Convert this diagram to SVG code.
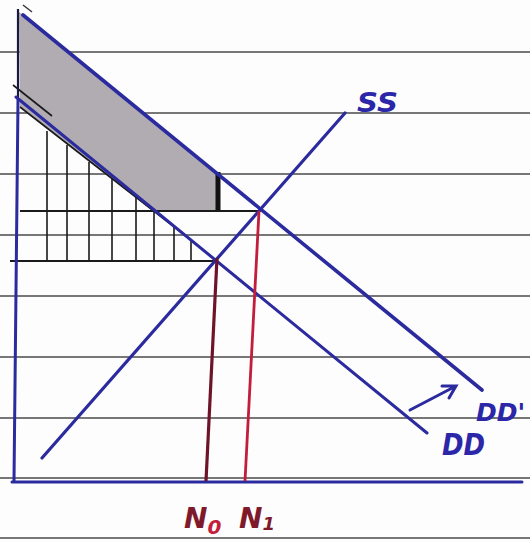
<svg xmlns="http://www.w3.org/2000/svg" width="530" height="542" viewBox="0 0 530 542">
<defs>
<style>
.rule{stroke:#4a4a4a;stroke-width:1.6;fill:none}
.blue{stroke:#2b2a9e;fill:none;stroke-linecap:round}
.ink{stroke:#1a1a1a;fill:none;stroke-width:1.6}
.lbl{font-family:"DejaVu Sans",sans-serif;font-style:italic;font-weight:bold}
.bl{fill:#2b27a8}
.rd{fill:#7e1a2c}
</style>
</defs>
<rect width="530" height="542" fill="#fdfdfd"/>
<g id="paper">
<line class="rule" x1="0" y1="52" x2="530" y2="52"/>
<line class="rule" x1="0" y1="113" x2="530" y2="113"/>
<line class="rule" x1="0" y1="174" x2="530" y2="174"/>
<line class="rule" x1="0" y1="235" x2="530" y2="235"/>
<line class="rule" x1="0" y1="296" x2="530" y2="296"/>
<line class="rule" x1="0" y1="357" x2="530" y2="357"/>
<line class="rule" x1="0" y1="418" x2="530" y2="418"/>
<line class="rule" x1="0" y1="478" x2="530" y2="478"/>
<line class="rule" x1="0" y1="538" x2="530" y2="538"/>
</g>
<g id="shaded-area">
<polygon points="19,12 23,15 218,175 220,211 153,211 20,107" fill="#b0acb1"/>
<line x1="218" y1="172" x2="218" y2="212" stroke="#111" stroke-width="5"/>
</g>
<g id="hatched-area" class="ink">
<line x1="20" y1="107" x2="191" y2="240"/>
<line x1="13" y1="85" x2="52" y2="116"/>
<line x1="20" y1="211" x2="261" y2="211" stroke-width="2.2"/>
<line x1="10" y1="261" x2="216" y2="261" stroke-width="2.2"/>
<line x1="47" y1="131" x2="47" y2="261"/>
<line x1="67" y1="145" x2="67" y2="261"/>
<line x1="89" y1="162" x2="89" y2="261"/>
<line x1="112" y1="179" x2="112" y2="261"/>
<line x1="136" y1="197" x2="136" y2="261"/>
<line x1="154" y1="212" x2="154" y2="261"/>
<line x1="174" y1="227" x2="174" y2="261"/>
<line x1="191" y1="240" x2="191" y2="261"/>
</g>
<g id="axes">
<line x1="18" y1="9" x2="18" y2="100" stroke="#1a1a40" stroke-width="2.2"/>
<line class="blue" x1="18" y1="100" x2="14" y2="481" stroke-width="3"/>
<line class="blue" x1="12" y1="482" x2="522" y2="482" stroke-width="3"/>
</g>
<g id="connectors">
<line class="blue" x1="23" y1="15" x2="482" y2="390" stroke-width="3.6"/>
<line class="blue" x1="16" y1="97" x2="427" y2="433" stroke-width="3"/>
<line class="blue" x1="42" y1="458" x2="345" y2="113" stroke-width="3.2"/>
<line x1="217" y1="258" x2="206" y2="481" stroke="#6e1428" stroke-width="3.2"/>
<line x1="259" y1="211" x2="245" y2="481" stroke="#c21e3c" stroke-width="2.8"/>
<path class="blue" d="M410,410 L456,386 M442,386 L456,386 L449,398" stroke-width="3"/>
<line x1="23" y1="5" x2="32" y2="12" stroke="#333" stroke-width="1.4"/>
</g>
<g id="label-SS"><text class="lbl bl" x="357" y="112" font-size="27" textLength="41" lengthAdjust="spacingAndGlyphs">SS</text></g>
<g id="label-DD-prime"><text class="lbl bl" x="476" y="421" font-size="25">DD'</text></g>
<g id="label-DD"><text class="lbl bl" x="442" y="455" font-size="31" textLength="43" lengthAdjust="spacingAndGlyphs">DD</text></g>
<g id="label-N0"><text class="lbl rd" x="184" y="528" font-size="28">N<tspan fill="#c2203a" font-size="20" dy="6">0</tspan></text></g>
<g id="label-N1"><text class="lbl rd" x="239" y="528" font-size="28">N<tspan font-size="18" dy="2">1</tspan></text></g>
</svg>
